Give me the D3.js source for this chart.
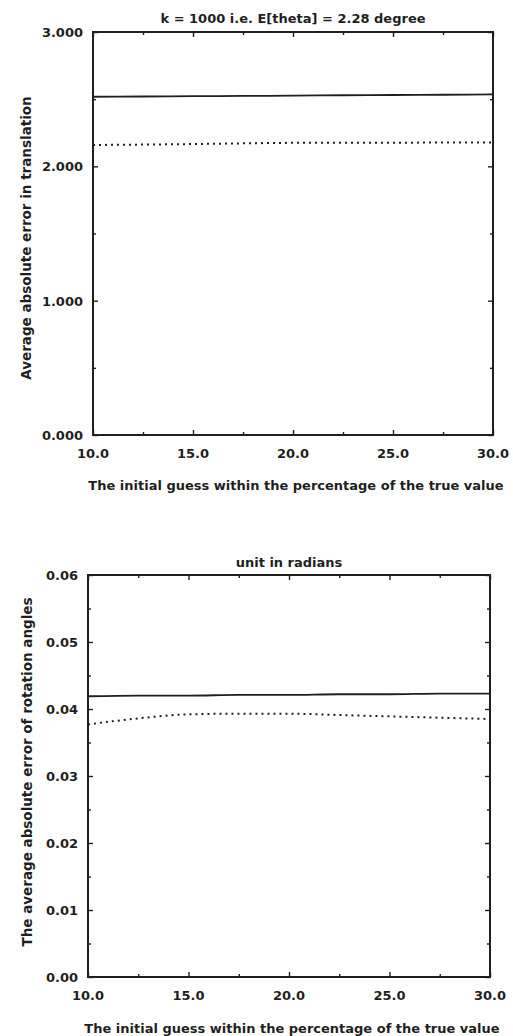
<!DOCTYPE html>
<html>
<head>
<meta charset="utf-8">
<script src="https://cdn.jsdelivr.net/npm/d3@7"></script>
<style>
  html, body { margin: 0; padding: 0; background: #fff; }
  svg text { font-family: "DejaVu Sans", Arial, sans-serif; font-weight: bold; fill: #1f1f1f; }
</style>
</head>
<body>
<div id="chart"></div>
<script>
// Initial guess (percent of true value) sampled along x
const guessPercent = [10, 12.5, 15, 17.5, 20, 22.5, 25, 27.5, 30];

// Top panel: average absolute error in translation
const transSolid  = [2.518, 2.520, 2.522, 2.524, 2.526, 2.529, 2.531, 2.533, 2.535];
const transDotted = [2.159, 2.162, 2.166, 2.171, 2.175, 2.176, 2.176, 2.177, 2.177];

// Bottom panel: average absolute error of rotation angles (radians)
const rotSolid  = [0.0419, 0.0420, 0.0420, 0.0421, 0.0421, 0.0422, 0.0422, 0.0423, 0.0423];
const rotDotted = [0.0377, 0.0386, 0.0392, 0.0393, 0.0393, 0.0391, 0.0389, 0.0387, 0.0385];

const xTicks = [10, 15, 20, 25, 30];
const xMinorTicks = [12.5, 17.5, 22.5, 27.5];
const transTicks = [0, 1, 2, 3];
const transMinorTicks = [0.5, 1.5, 2.5];
const rotTicks = [0, 0.01, 0.02, 0.03, 0.04, 0.05, 0.06];
const rotMinorTicks = [0.005, 0.015, 0.025, 0.035, 0.045, 0.055];

const xLabel = 'The initial guess within the percentage of the true value';

const panels = [
  {
    title: 'k = 1000 i.e. E[theta] = 2.28 degree',
    yLabel: 'Average absolute error in translation',
    box: { left: 93, right: 493, top: 32, bottom: 435 },
    yDomain: [0, 3],
    yTicks: transTicks, yMinor: transMinorTicks, yFormat: d3.format('.3f'),
    series: [transSolid, transDotted],
    titleY: 23, yLabelX: 31, yLabelMid: 238, xTickY: 458, xLabelY: 490
  },
  {
    title: 'unit in radians',
    yLabel: 'The average absolute error of rotation angles',
    box: { left: 88, right: 490, top: 575, bottom: 977 },
    yDomain: [0, 0.06],
    yTicks: rotTicks, yMinor: rotMinorTicks, yFormat: d3.format('.2f'),
    series: [rotSolid, rotDotted],
    titleY: 567, yLabelX: 32, yLabelMid: 772, xTickY: 1000, xLabelY: 1033
  }
];

const svg = d3.select('#chart').append('svg')
  .attr('width', 513)
  .attr('height', 1036);

panels.forEach(p => {
  const b = p.box;
  const x = d3.scaleLinear().domain([10, 30]).range([b.left, b.right]);
  const y = d3.scaleLinear().domain(p.yDomain).range([b.bottom, b.top]);
  const g = svg.append('g');

  // ticks pointing inward on all four sides
  const axes = [
    { ax: d3.axisBottom(x), t: b.top, vals: xTicks, size: 5 },
    { ax: d3.axisBottom(x), t: b.top, vals: xMinorTicks, size: 3 },
    { ax: d3.axisTop(x), t: b.bottom, vals: xTicks, size: 5 },
    { ax: d3.axisTop(x), t: b.bottom, vals: xMinorTicks, size: 3 },
    { ax: d3.axisRight(y), l: b.left, vals: p.yTicks, size: 5 },
    { ax: d3.axisRight(y), l: b.left, vals: p.yMinor, size: 3 },
    { ax: d3.axisLeft(y), l: b.right, vals: p.yTicks, size: 5 },
    { ax: d3.axisLeft(y), l: b.right, vals: p.yMinor, size: 3 }
  ];
  axes.forEach(a => {
    const ag = g.append('g')
      .attr('transform', a.t !== undefined ? `translate(0,${a.t})` : `translate(${a.l},0)`)
      .call(a.ax.tickValues(a.vals).tickSize(a.size).tickFormat(''));
    ag.select('.domain').remove();
    ag.selectAll('line').attr('stroke', '#1f1f1f').attr('stroke-width', 1.4);
  });

  // frame
  g.append('rect')
    .attr('x', b.left).attr('y', b.top)
    .attr('width', b.right - b.left).attr('height', b.bottom - b.top)
    .attr('fill', 'none').attr('stroke', '#1f1f1f').attr('stroke-width', 2);

  // tick labels
  g.selectAll('.xt').data(xTicks).enter().append('text')
    .attr('x', d => x(d)).attr('y', p.xTickY)
    .attr('text-anchor', 'middle').attr('font-size', 13)
    .text(d => d3.format('.1f')(d));
  g.selectAll('.yt').data(p.yTicks).enter().append('text')
    .attr('x', b.left - 10).attr('y', d => y(d) + 5)
    .attr('text-anchor', 'end').attr('font-size', 13)
    .text(d => p.yFormat(d));

  // lines
  const line = d3.line()
    .x((d, i) => x(guessPercent[i]))
    .y(d => y(d))
    .curve(d3.curveMonotoneX);
  g.append('path').datum(p.series[0])
    .attr('d', line).attr('fill', 'none')
    .attr('stroke', '#1f1f1f').attr('stroke-width', 1.8);
  g.append('path').datum(p.series[1])
    .attr('d', line).attr('fill', 'none')
    .attr('stroke', '#1f1f1f').attr('stroke-width', 2)
    .attr('stroke-dasharray', '2,4');

  // titles and labels
  g.append('text')
    .attr('x', (b.left + b.right) / 2).attr('y', p.titleY)
    .attr('text-anchor', 'middle').attr('font-size', 13)
    .text(p.title);
  g.append('text')
    .attr('x', (b.left + b.right) / 2 + 3).attr('y', p.xLabelY)
    .attr('text-anchor', 'middle').attr('font-size', 13)
    .text(xLabel);
  g.append('text')
    .attr('transform', `translate(${p.yLabelX},${p.yLabelMid}) rotate(-90)`)
    .attr('text-anchor', 'middle').attr('font-size', 13.5)
    .text(p.yLabel);
});
</script>
</body>
</html>
